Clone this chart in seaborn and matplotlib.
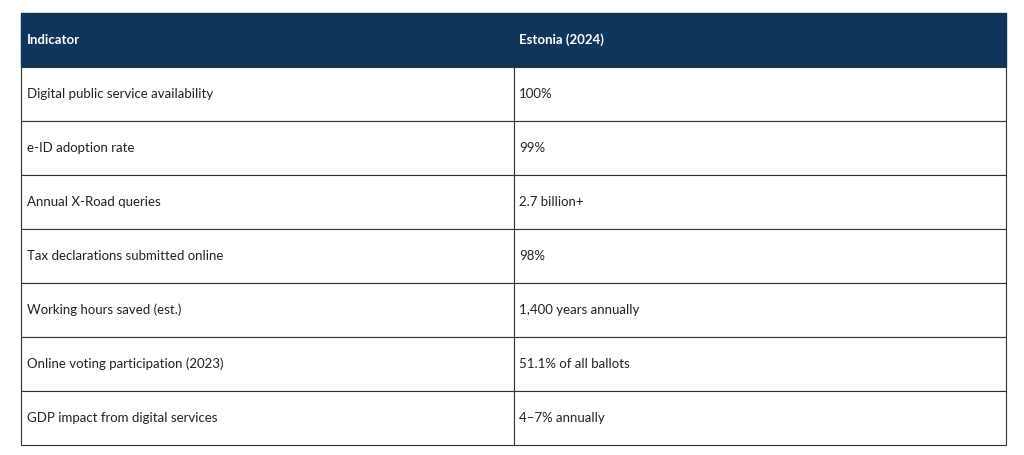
import matplotlib.pyplot as plt
import seaborn as sns
from matplotlib.patches import Rectangle

sns.set_theme(style="white", font="Lato")

headers = ["Indicator", "Estonia (2024)"]
indicators = [
    "Digital public service availability",
    "e-ID adoption rate",
    "Annual X-Road queries",
    "Tax declarations submitted online",
    "Working hours saved (est.)",
    "Online voting participation (2023)",
    "GDP impact from digital services",
]
values = [
    "100%",
    "99%",
    "2.7 billion+",
    "98%",
    "1,400 years annually",
    "51.1% of all ballots",
    "4\u20137% annually",
]

navy = "#10355b"
left, mid, right = 21, 514, 1006
top, row_h = 13, 54

fig = plt.figure(figsize=(10.24, 4.55), dpi=100)
ax = fig.add_axes([0, 0, 1, 1])
ax.set_xlim(0, 1024)
ax.set_ylim(455, 0)
ax.axis("off")

# header
ax.add_patch(Rectangle((left, top), right - left, row_h, color=navy))
for x, h in zip([left + 6, mid + 5], headers):
    ax.text(x, top + row_h / 2, h, color="white", fontsize=9.5,
            fontweight="bold", va="center", ha="left")

# body rows
for i, (ind, val) in enumerate(zip(indicators, values)):
    y = top + row_h * (i + 1)
    for x0, x1 in [(left, mid), (mid, right)]:
        ax.add_patch(Rectangle((x0, y), x1 - x0, row_h, facecolor="white",
                               edgecolor="#333333", linewidth=0.8))
    ax.text(left + 6, y + row_h / 2, ind, color="#222222", fontsize=9.5,
            va="center", ha="left")
    ax.text(mid + 5, y + row_h / 2, val, color="#222222", fontsize=9.5,
            va="center", ha="left")

fig.savefig("out.png", dpi=100, facecolor="white")
